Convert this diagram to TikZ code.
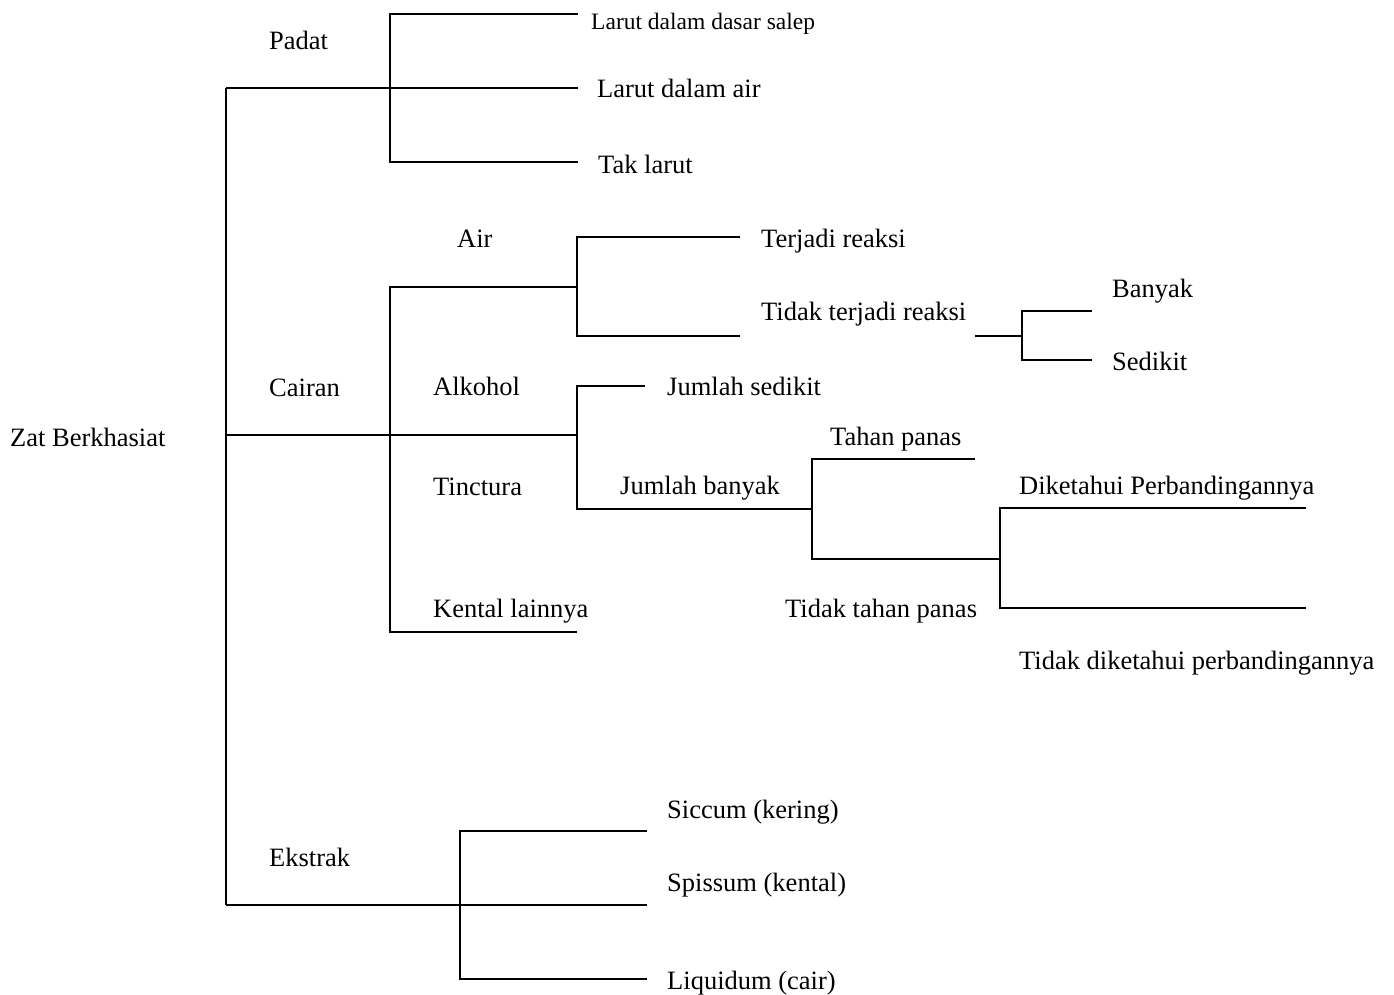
\documentclass[tikz,border=0pt]{standalone}
\usepackage{fontspec}
\setmainfont{Liberation Serif}
\begin{document}
\begin{tikzpicture}[x=1pt,y=-1pt,
  lbl/.style={anchor=base west,inner sep=0pt,font=\fontsize{26.5}{30}\selectfont},
  lblsmall/.style={anchor=base west,inner sep=0pt,font=\fontsize{23.5}{28}\selectfont},
  br/.style={line width=1.5pt,line cap=butt,line join=miter}]
\useasboundingbox (0,0) rectangle (1394,994);
% labels
\node[lbl] (zat) at (10,446) {Zat Berkhasiat};
\node[lbl] (padat) at (269,49) {Padat};
\node[lblsmall] (lds) at (591,29) {Larut dalam dasar salep};
\node[lbl] (lda) at (597,97) {Larut dalam air};
\node[lbl] (tak) at (598,173) {Tak larut};
\node[lbl] (air) at (457,247) {Air};
\node[lbl] (tr) at (761,247) {Terjadi reaksi};
\node[lbl] (ttr) at (761,320) {Tidak terjadi reaksi};
\node[lbl] (banyak) at (1112,297) {Banyak};
\node[lbl] (sedikit) at (1112,370) {Sedikit};
\node[lbl] (cairan) at (269,396) {Cairan};
\node[lbl] (alkohol) at (433,395) {Alkohol};
\node[lbl] (js) at (667,395) {Jumlah sedikit};
\node[lbl] (tp) at (830,445) {Tahan panas};
\node[lbl] (tinc) at (433,495) {Tinctura};
\node[lbl] (jb) at (620,494) {Jumlah banyak};
\node[lbl] (dp) at (1019,494) {Diketahui Perbandingannya};
\node[lbl] (kl) at (433,617) {Kental lainnya};
\node[lbl] (ttp) at (785,617) {Tidak tahan panas};
\node[lbl] (tdp) at (1019,669) {Tidak diketahui perbandingannya};
\node[lbl] (ekstrak) at (269,866) {Ekstrak};
\node[lbl] (siccum) at (667,818) {Siccum (kering)};
\node[lbl] (spissum) at (667,891) {Spissum (kental)};
\node[lbl] (liq) at (667,989) {Liquidum (cair)};
% junction coordinates
\coordinate (r0) at (226,88);
\coordinate (r1) at (226,435);
\coordinate (r2) at (226,905);
\coordinate (pA) at (390,14);
\coordinate (pB) at (390,162);
\coordinate (pE1) at (578,14);
\coordinate (pE2) at (578,88);
\coordinate (pE3) at (578,162);
\coordinate (cA) at (390,287);
\coordinate (cB) at (390,632);
\coordinate (cK) at (577,632);
\coordinate (aA) at (577,287);
\coordinate (aT) at (577,237);
\coordinate (aB) at (577,336);
\coordinate (aT2) at (740,237);
\coordinate (aB2) at (740,336);
\coordinate (nS) at (975,336);
\coordinate (nJ) at (1022,336);
\coordinate (nT) at (1022,311);
\coordinate (nB) at (1022,360);
\coordinate (nT2) at (1092,311);
\coordinate (nB2) at (1092,360);
\coordinate (kJ) at (577,435);
\coordinate (kT) at (577,386);
\coordinate (kT2) at (645,386);
\coordinate (kB) at (577,509);
\coordinate (hJ) at (812,509);
\coordinate (hT) at (812,459);
\coordinate (hT2) at (975,459);
\coordinate (hB) at (812,559);
\coordinate (dJ) at (1000,559);
\coordinate (dT) at (1000,508);
\coordinate (dB) at (1000,608);
\coordinate (dT2) at (1306,508);
\coordinate (dB2) at (1306,608);
\coordinate (eJ) at (460,905);
\coordinate (eT) at (460,831);
\coordinate (eB) at (460,979);
\coordinate (eT2) at (647,831);
\coordinate (eM2) at (647,905);
\coordinate (eB2) at (647,979);
% brackets
\draw[br] (r0) -- (r2);
\draw[br] (r0) -- (pE2);
\draw[br] (pE1) -- (pA) -- (pB) -- (pE3);
\draw[br] (r1) -- (kJ);
\draw[br] (aA) -- (cA) -- (cB) -- (cK);
\draw[br] (aT2) -- (aT) -- (aB) -- (aB2);
\draw[br] (nS) -- (nJ);
\draw[br] (nT2) -- (nT) -- (nB) -- (nB2);
\draw[br] (kT2) -- (kT) -- (kB) -- (hJ);
\draw[br] (hT2) -- (hT) -- (hB) -- (dJ);
\draw[br] (dT2) -- (dT) -- (dB) -- (dB2);
\draw[br] (r2) -- (eM2);
\draw[br] (eT2) -- (eT) -- (eB) -- (eB2);
\end{tikzpicture}
\end{document}
